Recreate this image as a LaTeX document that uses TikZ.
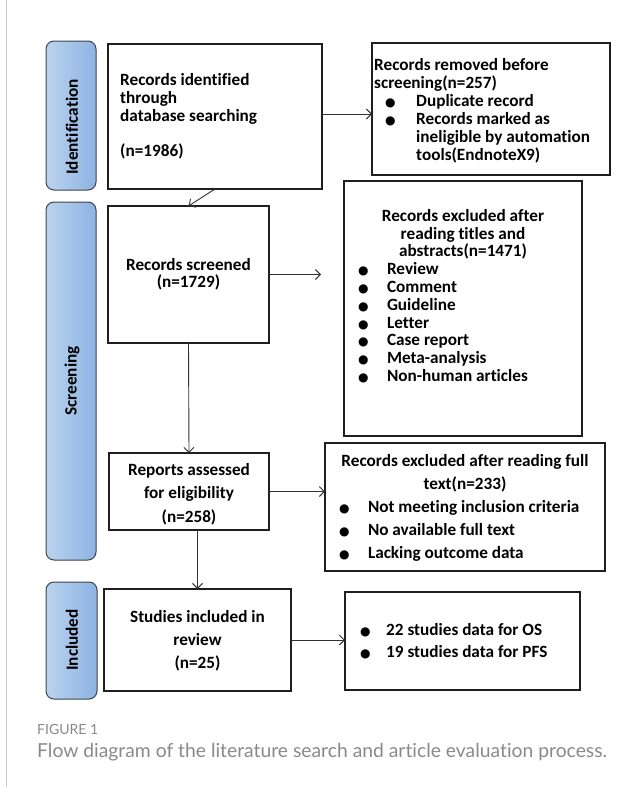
\documentclass[tikz,border=0pt]{standalone}
\usepackage{fontspec}
\setmainfont{Carlito}[Ligatures={NoCommon}]
\newfontfamily\dejavu{DejaVu Sans}
\newfontfamily\capfont{Lato}[Ligatures={NoCommon}]
\usetikzlibrary{arrows.meta,calc}
\definecolor{barL}{HTML}{BCD3EE}
\definecolor{barR}{HTML}{8DB3E2}
\definecolor{barEdge}{HTML}{3C4450}
\definecolor{capgray}{HTML}{8A8A8A}
\definecolor{arrowgray}{HTML}{333333}
\newcommand\bul{{\dejavu\fontsize{12}{12}\selectfont ●}}
\newcommand\bitem[3]{\makebox[#2][l]{\hspace*{#1}\bul}#3}
\begin{document}
\begin{tikzpicture}[x=1pt,y=-1pt,
  boxnode/.style={draw=black!88, line width=1.3pt, fill=white, inner sep=0pt, outer sep=0pt, rectangle},
  sidebar/.style={draw=barEdge, line width=1pt, rounded corners=8pt, left color=barL, right color=barR, inner sep=0pt, outer sep=0pt},
  sidelabel/.style={rotate=90, font=\bfseries\fontsize{17.2}{18}\selectfont, inner sep=0pt},
  txt/.style={font=\bfseries\fontsize{17.2}{18}\selectfont, inner sep=0pt},
  txtw/.style={font=\bfseries\fontsize{17.2}{23}\selectfont, inner sep=0pt},
  flow/.style={draw=arrowgray, line width=0.9pt, -{Straight Barb[length=5pt,width=10pt]}}
]
\fill[white] (0,0) rectangle (643,787);
\useasboundingbox (0,0) rectangle (643,787);
\draw[black!20, line width=1pt] (6.5,0) -- (6.5,787);

% side bars
\node[sidebar, minimum width=50pt, minimum height=149pt] (s1) at (71,115.5) {};
\node[sidebar, minimum width=50pt, minimum height=358pt] (s2) at (71,381) {};
\node[sidebar, minimum width=51pt, minimum height=117pt] (s3) at (71.5,640.5) {};
\node[sidelabel] (l1) at (72,127) {Identification};
\node[sidelabel] (l2) at (72,381) {Screening};
\node[sidelabel] (l3) at (72,640) {Included};

% boxes
\node[boxnode, minimum width=214pt, minimum height=145pt] (b1) at (215,116.5) {};
\node[boxnode, minimum width=238pt, minimum height=132pt] (b2) at (491,109) {};
\node[boxnode, minimum width=161pt, minimum height=137pt] (b3) at (188.5,274.5) {};
\node[boxnode, minimum width=238pt, minimum height=255pt] (b4) at (463,308.5) {};
\node[boxnode, minimum width=160pt, minimum height=77pt] (b5) at (189,491.5) {};
\node[boxnode, minimum width=280pt, minimum height=128pt] (b6) at (465,507) {};
\node[boxnode, minimum width=187pt, minimum height=102pt] (b7) at (197.5,640) {};
\node[boxnode, minimum width=235pt, minimum height=98pt] (b8) at (462.5,641) {};

% texts
\node[txt, align=left, anchor=west] (t1) at (120,116.5)
  {Records identified\\through\\database searching\\[17pt](n=1986)};
\node[txt, align=left, anchor=north west] (t2) at (374,58)
  {Records removed before\\screening(n=257)\\
   \bitem{11pt}{42pt}{Duplicate record}\\
   \bitem{11pt}{42pt}{Records marked as}\\
   \hspace*{42pt}ineligible by automation\\
   \hspace*{42pt}tools(EndnoteX9)};
\node[txt, align=center, font=\bfseries\fontsize{17.2}{17}\selectfont] (t3) at (188.5,274.5)
  {Records screened\\(n=1729)};
\node[txt, align=center, anchor=north, font=\bfseries\fontsize{17.2}{17.8}\selectfont] (t4) at (463,209)
  {Records excluded after\\reading titles and\\abstracts(n=1471)\\
   \makebox[210pt][l]{\bitem{0pt}{29pt}{Review}}\\
   \makebox[210pt][l]{\bitem{0pt}{29pt}{Comment}}\\
   \makebox[210pt][l]{\bitem{0pt}{29pt}{Guideline}}\\
   \makebox[210pt][l]{\bitem{0pt}{29pt}{Letter}}\\
   \makebox[210pt][l]{\bitem{0pt}{29pt}{Case report}}\\
   \makebox[210pt][l]{\bitem{0pt}{29pt}{Meta-analysis}}\\
   \makebox[210pt][l]{\bitem{0pt}{29pt}{Non-human articles}}};
\node[txtw, align=center, font=\bfseries\fontsize{17.2}{23.5}\selectfont] (t5) at (189,494)
  {Reports assessed\\for eligibility\\(n=258)};
\node[txtw, align=center, anchor=north] (t6) at (465,454)
  {Records excluded after reading full\\text(n=233)\\
   \makebox[252pt][l]{\bitem{0pt}{29pt}{Not meeting inclusion criteria}}\\
   \makebox[252pt][l]{\bitem{0pt}{29pt}{No available full text}}\\
   \makebox[252pt][l]{\bitem{0pt}{29pt}{Lacking outcome data}}};
\node[txtw, align=center] (t7) at (197.5,641)
  {Studies included in\\review\\(n=25)};
\node[txtw, align=left, anchor=west, font=\bfseries\fontsize{17.2}{22}\selectfont] (t8) at (360,641)
  {\bitem{0pt}{26pt}{22 studies data for OS}\\
   \bitem{0pt}{26pt}{19 studies data for PFS}};

% connectors
\coordinate (c3) at (321,274.5);
\draw[flow] ([yshift=2.5pt]b1.east) -- ([yshift=2.5pt]b1.east -| b2.west);
\draw[flow] (b1.south) -- (b3.north);
\draw[flow] (b3.east) -- (c3);
\draw[flow] (b3.south) -- (b5.north);
\draw[flow] (b5.east) -- (b5.east -| b6.west);
\draw[flow] (b7.north |- b5.south) -- (b7.north);
\draw[flow] (b7.east) -- (b7.east -| b8.west);

% caption
\node[anchor=base west, inner sep=0pt, text=capgray, font=\capfont\fontsize{14}{16}\selectfont] (fig) at (37,734) {FIGURE 1};
\node[anchor=base west, inner sep=0pt, text=capgray, font=\capfont\fontsize{19.3}{22}\selectfont] (cap) at (37,757)
  {Flow diagram of the literature search and article evaluation process.};
\end{tikzpicture}
\end{document}
